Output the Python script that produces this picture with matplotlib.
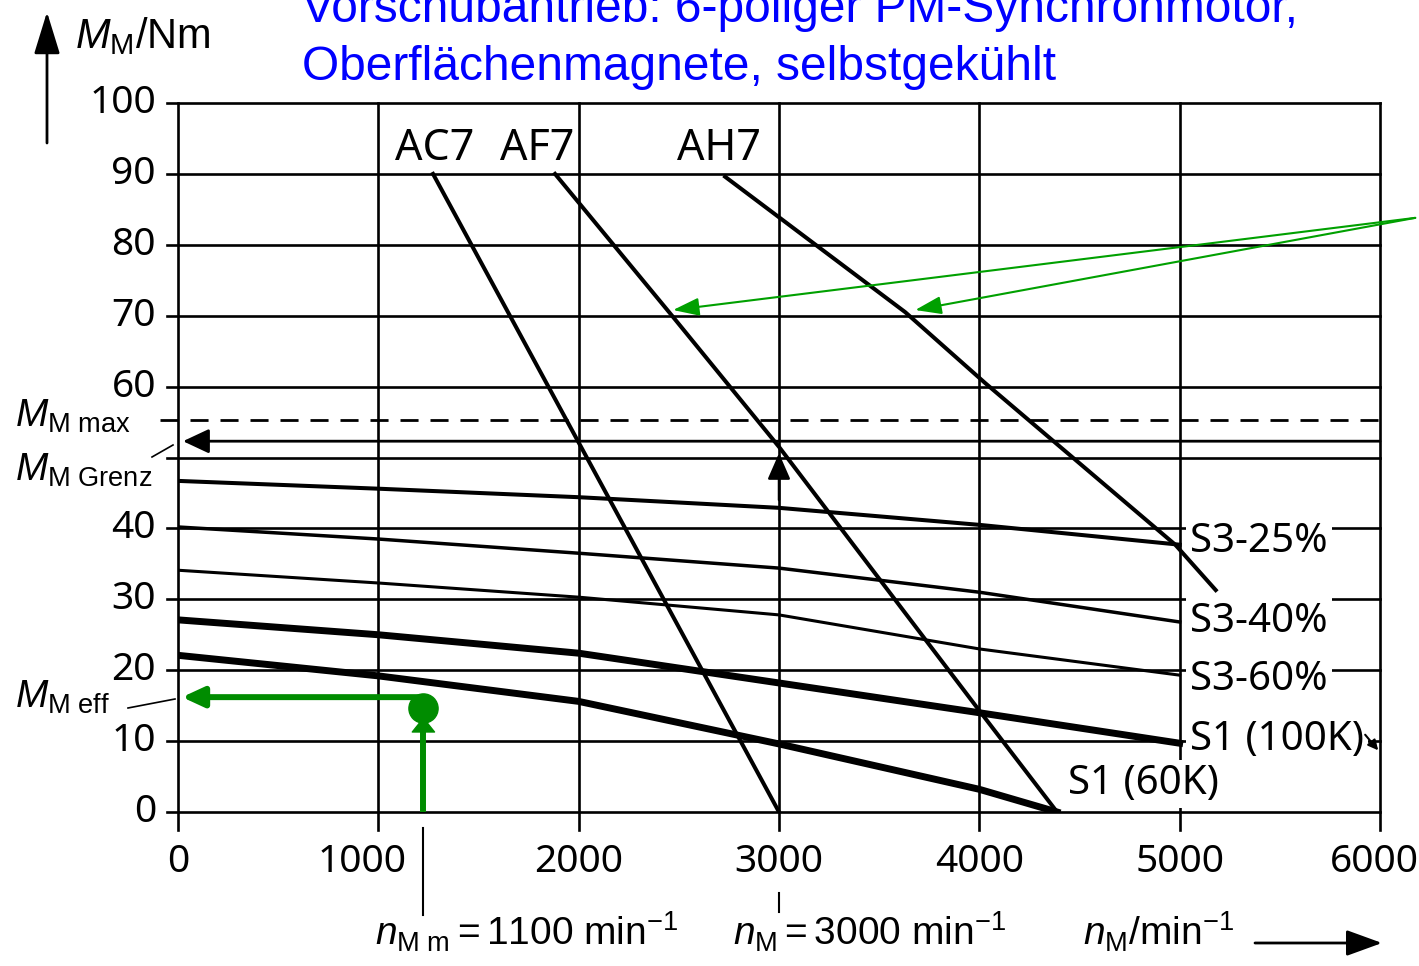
import matplotlib
matplotlib.use("Agg")
import matplotlib.pyplot as plt
from matplotlib.lines import Line2D

# --- data ---
x_ticks = [0, 1000, 2000, 3000, 4000, 5000, 6000]
y_ticks = [0, 10, 20, 30, 40, 50, 60, 70, 80, 90, 100]
y_tick_labels = ["0", "10", "20", "30", "40", "", "60", "70", "80", "90", "100"]

# motor limit lines (speed in 1/min, torque in Nm)
ac7_n = [1273, 3000]
ac7_m = [90, 0]
af7_n = [1882, 2466, 3000, 4000, 4388]
af7_m = [90, 70, 51.5, 14.3, 0]
ah7_n = [2731, 3630, 4029, 4978, 5180]
ah7_m = [89.6, 70.5, 60.5, 37.7, 31.3]

# operating mode curves
n_curve = [0, 1000, 2000, 3000, 4000, 5000]
m_s3_25 = [46.7, 45.6, 44.4, 42.9, 40.5, 37.7]
m_s3_40 = [40.2, 38.5, 36.5, 34.4, 31.0, 26.8]
m_s3_60 = [34.1, 32.3, 30.3, 27.8, 23.0, 19.3]
m_s1_100 = [27.1, 25.0, 22.4, 18.2, 14.0, 9.7]
n_s1_60 = [0, 1000, 2000, 3000, 4000, 4388]
m_s1_60 = [22.1, 19.2, 15.6, 9.6, 3.2, 0]

m_max = 55.3
m_grenz = 52.3
n_mm = 1225      # drawn position of n_Mm
m_eff = 16.2
m_point = 14.7
n_m = 3000

W, H = 1419, 966
cond = dict(family="Noto Sans")
green = "#008c00"
green_thin = "#00a000"

plt.rcParams["mathtext.fontset"] = "custom"
plt.rcParams["mathtext.rm"] = "Liberation Sans"
plt.rcParams["mathtext.it"] = "Liberation Sans:italic"
plt.rcParams["mathtext.bf"] = "Liberation Sans:bold"

fig = plt.figure(figsize=(W / 100, H / 100), dpi=100)
ax = fig.add_axes([178 / W, 1 - 812 / H, 1202 / W, 709 / H])
ax.set_xlim(0, 6000)
ax.set_ylim(0, 100)
ax.axis("off")


def fp(x, y):
    # pixel position (top-left origin) -> figure pixels
    return (x, H - y)


# grid, extending a little past the axes like printed ticks
for x in x_ticks:
    ax.plot([x, x], [-2.5, 100], color="k", lw=1.9, clip_on=False, zorder=1)
for y in y_ticks:
    ax.plot([-55, 6000], [y, y], color="k", lw=1.9, clip_on=False, zorder=1)

for y, lab in zip(y_ticks, y_tick_labels):
    ax.text(-110, y, lab, ha="right", va="center", fontsize=28, **cond)
x_label_shift = [0, -80, 0, 0, 0, 0, -30]
for x, dx in zip(x_ticks, x_label_shift):
    ax.text(x + dx, -7.0, str(x), ha="center", va="center", fontsize=28, **cond)

# limit lines
ax.plot([-90, 6000], [m_max, m_max], color="k", lw=2, dashes=(6.5, 4.3), clip_on=False, zorder=2)
ax.annotate("", xy=(25, m_grenz), xytext=(6000, m_grenz),
            arrowprops=dict(arrowstyle="-|>,head_length=1.6,head_width=0.75", color="k", lw=2,
                            shrinkA=0, shrinkB=0), zorder=3)
ax.annotate("", xy=(n_m, 50.6), xytext=(n_m, 44),
            arrowprops=dict(arrowstyle="-|>,head_length=1.6,head_width=0.7", color="k", lw=1.8,
                            shrinkA=0, shrinkB=0), zorder=3)

# curves
ax.plot(n_curve, m_s3_25, color="k", lw=2.9, zorder=3)
ax.plot(n_curve, m_s3_40, color="k", lw=2.5, zorder=3)
ax.plot(n_curve, m_s3_60, color="k", lw=2.2, zorder=3)
ax.plot(n_curve, m_s1_100, color="k", lw=5, zorder=3)
ax.plot(n_s1_60, m_s1_60, color="k", lw=5, zorder=3)
ax.plot(ac7_n, ac7_m, color="k", lw=2.9, zorder=3)
ax.plot(af7_n, af7_m, color="k", lw=2.9, zorder=3)
ax.plot(ah7_n, ah7_m, color="k", lw=2.9, zorder=3)

# curve labels
box = dict(facecolor="white", edgecolor="none", pad=3)
for txt, x, y in [("AC7", 1083, 92.0), ("AF7", 1607, 92.0), ("AH7", 2491, 92.0)]:
    ax.text(x, y, txt, fontsize=31, va="baseline", zorder=2, **cond)
for txt, x, y in [("S3-25%", 5052, 38.1), ("S3-40%", 5052, 26.8), ("S3-60%", 5052, 18.6),
                  ("S1 (100K)", 5052, 10.2), ("S1 (60K)", 4443, 4.0)]:
    ax.text(x, y, txt, fontsize=29, va="center", bbox=box, zorder=2, **cond)
ax.annotate("", xy=(5991, 8.7), xytext=(5926, 10.9),
            arrowprops=dict(arrowstyle="-|>,head_length=0.6,head_width=0.3", color="k", lw=1.5,
                            shrinkA=0, shrinkB=0), annotation_clip=False, zorder=4)

# green working point
ax.plot([n_mm, n_mm], [0, 11.5], color=green, lw=4.3, zorder=4, solid_capstyle="butt")
ax.annotate("", xy=(n_mm, 13.4), xytext=(n_mm, 11),
            arrowprops=dict(arrowstyle="-|>,head_length=1.0,head_width=0.8", color=green, lw=1,
                            shrinkA=0, shrinkB=0), zorder=4)
ax.plot(n_mm, m_point, "o", ms=21, color=green, zorder=5)
ax.annotate("", xy=(20, m_eff), xytext=(n_mm, m_eff),
            arrowprops=dict(arrowstyle="-|>,head_length=1.3,head_width=0.6", color=green, lw=4.3,
                            shrinkA=0, shrinkB=0), zorder=4)
for x, y in [(2471, 70.8), (3680, 70.8)]:
    ax.annotate("", xy=(x, y), xytext=(6176, 83.8),
                arrowprops=dict(arrowstyle="-|>,head_length=1.6,head_width=0.55", color=green_thin,
                                lw=1.5, shrinkA=0, shrinkB=0), annotation_clip=False, zorder=4)

# marker lines below the axis
ax.plot([n_mm, n_mm], [-2.3, -14.5], color="k", lw=1.5, clip_on=False)
ax.plot([n_m, n_m], [-11.4, -14.1], color="k", lw=1.5, clip_on=False)

# axis captions and arrows
ax.annotate("", xy=fp(47, 12), xycoords="figure pixels", xytext=fp(47, 143), textcoords="figure pixels",
            arrowprops=dict(arrowstyle="-|>,head_length=2.6,head_width=0.8", color="k", lw=2,
                            shrinkA=0, shrinkB=0))
ax.annotate("", xy=fp(1382, 943), xycoords="figure pixels", xytext=fp(1255, 943), textcoords="figure pixels",
            arrowprops=dict(arrowstyle="-|>,head_length=2.2,head_width=0.8", color="k", lw=2,
                            shrinkA=0, shrinkB=0))
fig.text(75 / W, 1 - 48 / H, r"$M_{\mathrm{M}}$/Nm", fontsize=30, family="Liberation Sans", va="baseline")

fig.text(15 / W, 1 - 427 / H, r"$M_{\mathrm{M\ max}}$", fontsize=28, va="baseline")
fig.text(15 / W, 1 - 481 / H, r"$M_{\mathrm{M\ Grenz}}$", fontsize=28, va="baseline")
fig.text(15 / W, 1 - 708 / H, r"$M_{\mathrm{M\ eff}}$", fontsize=28, va="baseline")
fig.add_artist(Line2D([152 / W, 173 / W], [1 - 457 / H, 1 - 445 / H], color="k", lw=1.2))
fig.add_artist(Line2D([128 / W, 175 / W], [1 - 708 / H, 1 - 699 / H], color="k", lw=1.2))

fig.text(375 / W, 1 - 946 / H, r"$n_{\mathrm{M\ m}} = \mathrm{1100\ min}^{-1}$", fontsize=28, va="baseline")
fig.text(733 / W, 1 - 946 / H, r"$n_{\mathrm{M}} = \mathrm{3000\ min}^{-1}$", fontsize=28, va="baseline")
fig.text(1083 / W, 1 - 946 / H, r"$n_{\mathrm{M}}/\mathrm{min}^{-1}$", fontsize=28, va="baseline")

# blue caption (top line is cut by the figure edge)
fig.text(302 / W, 1 - 22 / H, "Vorschubantrieb: 6-poliger PM-Synchronmotor,", color="#0000ff",
         fontsize=34.5, family="Liberation Sans", va="baseline")
fig.text(302 / W, 1 - 80 / H, "Oberflächenmagnete, selbstgekühlt", color="#0000ff",
         fontsize=34.5, family="Liberation Sans", va="baseline")

fig.savefig("out.png", dpi=100)
